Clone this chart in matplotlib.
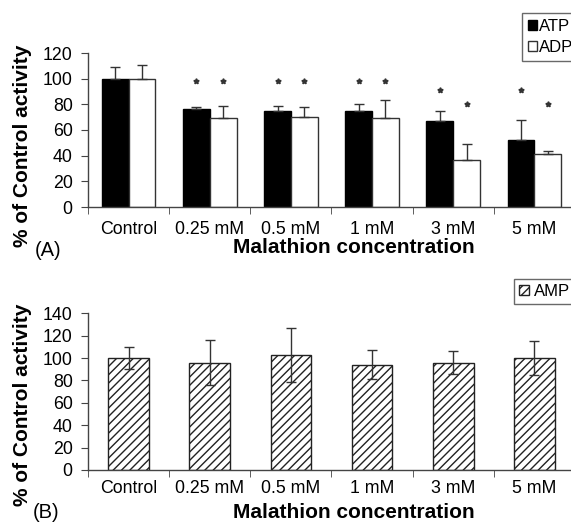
import matplotlib
matplotlib.use("Agg")
import matplotlib.pyplot as plt
import numpy as np
from matplotlib.patches import Patch

plt.rcParams['font.family'] = ['Liberation Sans', 'DejaVu Sans']
plt.rcParams['hatch.linewidth'] = 1.0

categories = ['Control', '0.25 mM', '0.5 mM', '1 mM', '3 mM', '5 mM']
atp = [100, 76, 75, 75, 67, 52]
atp_err = [9, 2, 4, 5, 8, 16]
adp = [100, 69, 70, 69, 37, 41]
adp_err = [11, 10, 8, 14, 12, 2.5]
atp_star = [None, 98, 98, 98, 91, 91]
adp_star = [None, 98, 98, 98, 80, 80]
amp = [100, 96, 103, 94, 96, 100]
amp_err = [10, 20, 24, 13, 10, 15]

W, H = 571, 524
fig = plt.figure(figsize=(W / 100, H / 100), dpi=100)

spine_c = '#444444'
tick_fs = 12.8
label_fs = 15


def style_axes(ax, ymax, step, xpad):
    ax.set_xlim(-0.5, 5.5)
    ax.set_ylim(0, ymax)
    ax.spines['top'].set_visible(False)
    ax.spines['right'].set_visible(False)
    for s in ('left', 'bottom'):
        ax.spines[s].set_color(spine_c)
        ax.spines[s].set_linewidth(1.0)
    ax.set_yticks(np.arange(0, ymax + 1, step))
    ax.tick_params(axis='y', direction='out', length=5, color=spine_c,
                   labelsize=tick_fs, pad=6)
    x = np.arange(len(categories))
    ax.set_xticks(x)
    ax.set_xticklabels(categories)
    ax.tick_params(axis='x', which='major', length=0, labelsize=tick_fs, pad=xpad)
    ax.set_xticks(np.arange(-0.5, len(categories), 1.0), minor=True)
    ax.tick_params(axis='x', which='minor', direction='out', length=5,
                   color=spine_c)
    ax.set_xlabel('Malathion concentration', fontsize=label_fs,
                  fontweight='bold')


# Panel A
axA = fig.add_axes([88 / W, 1 - 207 / H, 487 / W, 154 / H])
x = np.arange(len(categories))
bw = 0.33
axA.bar(x - bw / 2, atp, width=bw, color='black', edgecolor='black',
        linewidth=1.0, yerr=[np.zeros(len(atp)), atp_err],
        error_kw=dict(ecolor='#333333', elinewidth=1.0, capsize=3.5,
                      capthick=1.0))
axA.bar(x + bw / 2, adp, width=bw, color='white', edgecolor='#333333',
        linewidth=1.0, yerr=[np.zeros(len(adp)), adp_err],
        error_kw=dict(ecolor='#333333', elinewidth=1.0, capsize=3.5,
                      capthick=1.0))
for i in range(len(categories)):
    if atp_star[i] is not None:
        axA.plot(x[i] - bw / 2, atp_star[i], marker=(5, 1, 0), color='#333333',
                 markersize=4, linestyle='none')
    if adp_star[i] is not None:
        axA.plot(x[i] + bw / 2, adp_star[i], marker=(5, 1, 0), color='#333333',
                 markersize=4, linestyle='none')
style_axes(axA, 120, 20, 10.3)
axA.xaxis.set_label_coords(0.545, -(238 - 207) / 154)
axA.set_ylabel('% of Control activity', fontsize=label_fs, fontweight='bold')
axA.yaxis.set_label_coords((32 - 88) / 487, 0.40)
fig.text(35 / W, 1 - 251 / H, '(A)', fontsize=14.5, va='center', ha='left')
legA = fig.legend(handles=[Patch(facecolor='black', edgecolor='black', label='ATP'),
                           Patch(facecolor='white', edgecolor='#333333', label='ADP')],
                  loc='upper left', bbox_to_anchor=(522 / W, 1 - 13 / H),
                  fontsize=12, frameon=True, fancybox=False, handlelength=0.55,
                  handleheight=0.55, handletextpad=0.12, borderpad=0.35,
                  labelspacing=0.35, borderaxespad=0)
legA.get_frame().set_edgecolor('#444444')
legA.get_frame().set_linewidth(1.0)

# Panel B
axB = fig.add_axes([88 / W, 1 - 470 / H, 487 / W, 156.7 / H])
axB.bar(x, amp, width=0.5, color='white', edgecolor='#222222', hatch='////',
        linewidth=1.0, yerr=amp_err,
        error_kw=dict(ecolor='#333333', elinewidth=1.0, capsize=3.5,
                      capthick=1.0))
style_axes(axB, 140, 20, 7.4)
axB.xaxis.set_label_coords(0.545, -(503 - 470) / 156.7)
axB.set_ylabel('% of Control activity', fontsize=label_fs, fontweight='bold')
axB.yaxis.set_label_coords((32 - 88) / 487, 0.415)
fig.text(33 / W, 1 - 513 / H, '(B)', fontsize=14.5, va='center', ha='left')
legB = fig.legend(handles=[Patch(facecolor='white', edgecolor='#222222',
                                 hatch='////', label='AMP')],
                  loc='upper left', bbox_to_anchor=(514 / W, 1 - 279 / H),
                  fontsize=12, frameon=True, fancybox=False, handlelength=0.6,
                  handleheight=0.6, handletextpad=0.3, borderpad=0.3,
                  borderaxespad=0)
legB.get_frame().set_edgecolor('#444444')
legB.get_frame().set_linewidth(1.0)

fig.savefig('out.png', dpi=100)
